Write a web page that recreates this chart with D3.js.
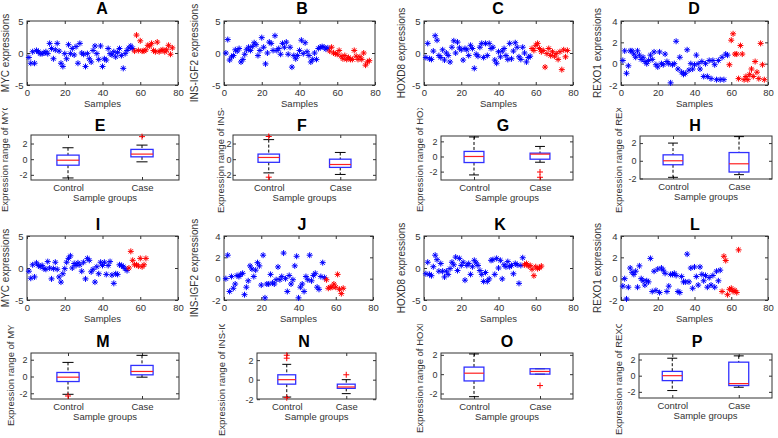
<!DOCTYPE html>
<html><head><meta charset="utf-8">
<script src="https://cdn.jsdelivr.net/npm/d3@7"></script>
<style>
body{margin:0;background:#fff}
svg{display:block}
text{font-family:"Liberation Sans",Arial,sans-serif;fill:#333}
</style>
</head><body>
<svg id="c" width="778" height="438"></svg>
<script>
// ---------------- DATA ----------------
const sampleTicks = [0, 20, 40, 60, 80];
const groups = ["Control", "Case"];
const genes = ["MYC", "INS-IGF2", "HOXD8", "REXO1"];

// scatter series (values in sample order; control = blue, case = red)
const A_control = [-0.7,-1.6,0.2,-1.6,0.4,0.2,-0.1,-0.1,0,0.2,-0.1,1.5,0.7,-0.9,0.5,1.5,0.3,-1.6,-2.1,-0.1,-0.9,1.3,-0.1,0.7,-0.3,1.0,-1.6,1.5,0,-0.2,-2.1,-0.1,-0.9,-1.4,0.4,1.1,-0.1,-1.0,1.1,-2.1,-0.9,-1.1,0.7,-0.1,-0.3,0.2,-0.6,0.1,0.7,-0.4,-2.4,-0.1,0.4,0.8,1.1,0.7];
const A_case = [0.3,2.8,0.4,1.9,0.3,0.3,0.5,1.2,1.1,1.5,0.4,0.2,1.7,0.2,0.4,0.5,0.2,0.5,1.2,-0.2,0.8];
const B_control = [0,2.1,-1.1,-0.6,-0.4,0.5,0.3,0.7,-1.4,-1.0,-0.2,0.5,0.9,0.4,1.0,1.6,1.3,-0.4,0.4,2.4,0.9,-1.7,0,1.7,1.5,0.4,2.7,0.4,0.7,-0.2,1.5,0.9,1.7,-0.2,0.9,-2.2,-0.4,-0.9,-0.4,0.4,2.0,-0.1,1.6,0.2,-0.4,-1.4,-1.0,0,-1.0,0.7,0.9,1.0,0.9,0.6,0.8];
const B_case = [0.3,0.9,0,-0.1,-0.2,0.4,-0.5,-0.9,-0.4,-1.0,-0.7,-1.0,-1.0,0.4,-0.5,-1.0,-0.6,-1.0,0,-1.9,-1.4,-1.2];
const C_control = [-0.7,1.5,-0.9,-1.0,0.3,2.7,2.0,-0.4,-0.7,0.5,-1.1,0,-0.4,-1.4,0.9,1.9,0,1.7,0.8,0.5,-1.1,0.7,0.5,-0.4,1.2,0.7,-2.4,-0.2,-0.5,0.9,1.5,-0.7,1.5,-0.4,1.5,0.7,0.9,-1.1,-1.6,0.2,-0.6,0.3,0.7,-0.4,-1.0,1.5,-0.9,0.3,1.6,0.9,-0.6,-1.0,0.9,0,-1.4,-0.7,-0.5];
const C_case = [0.7,0.4,1.2,1.5,0.7,0.2,0.4,-2.2,-0.1,0.7,-0.4,0.2,-0.5,-0.1,-1.0,0.2,-2.6,0.5,-0.6,0.4];
const D_control = [0.3,1.2,-0.9,-0.2,1.2,1.2,0.9,0.6,1.2,0.8,0.4,0.6,0.2,0,0.3,0.8,0.4,1.1,-0.1,-0.3,1.1,0,-0.1,0.9,0.2,0,-1.8,-0.1,0,2.1,-0.5,0.6,-0.8,-1.0,-0.9,1.3,-0.6,0,-0.5,-0.1,0.8,0,-0.5,0.2,-1.2,0,-1.2,0.3,-1.4,0.3,-0.1,-1.5,0.3,-1.5,0.6,-1.5,0.9,0.8];
const D_case = [-0.1,2.2,2.8,0.9,0.9,-1.4,1.7,0.9,-1.5,-1.2,-1.5,-1.0,-0.5,-1.2,0.2,-0.8,-1.4,1.9,-0.1,-1.5];
const I_control = [-0.5,-1.6,0.5,-1.4,0.8,0.4,0.2,0.4,-0.1,-0.2,1.0,0,-1.7,-0.1,0.9,-0.2,-1.4,-2.2,-0.9,-0.1,0.9,1.5,1.9,0,0.7,0.4,0.8,0.5,-0.5,0.9,-1.7,1.5,1.2,-0.6,-0.2,-2.2,0.2,-0.9,0.9,0.4,0.9,-1.0,0.4,1.0,-1.1,-2.4,-0.9,-1.0,0.5,0.4,0.2,-0.1,-0.4];
const I_case = [0,2.6,1.2,0.5,0.5,0.3,1.5,0.2,0.5,1.5];
const J_control = [0,2.2,-1.2,0.2,-0.9,-0.5,0.3,0.2,0.4,0.5,-1.5,-0.8,-0.2,1.2,0.9,0.2,0.8,1.5,1.2,-0.6,2.2,-1.8,-0.5,-0.5,0.4,-0.4,-0.5,-0.1,1.1,-0.1,0.2,2.4,0,-1.2,0.3,-0.5,-0.1,1.2,2.1,-1.8,-0.8,-0.5,-1.2,0.2,-0.1,2.2,-0.2,0.3,0.5,-0.8,-1.0,0.2,1.5,0.1];
const J_case = [-0.1,-0.9,-0.8,-0.8,-0.5,-0.8,0.4,-1.0,-1.4,-0.9];
const K_control = [-0.9,0.9,-1.0,-1.2,0.2,2.0,1.3,-0.5,0.7,-0.5,-1.4,-0.5,-1.0,-0.1,0.9,0.5,1.7,-0.4,1.5,0.4,0.9,-1.9,0.4,0.7,-1.0,0.2,1.2,0.8,0.4,-0.4,-1.0,-2.1,-0.7,-2.1,-1.7,1.2,1.3,-1.0,1.5,0,1.2,-1.7,0.5,0.2,1.0,0.2,0.4,-0.9,0.7,0.5,-2.4,0.4,1.6];
const K_case = [0.5,0.7,0.3,0.4,-0.2,-1.2,0.2,-0.1,0,0.3];
const L_control = [-0.7,0,-1.9,-0.8,1.0,0.6,0.4,0.7,-0.8,1.2,0,-0.2,-0.6,-0.2,-0.3,1.9,-1.2,0.7,-1.1,0.9,-1.3,1.0,0.8,0.5,-1.2,-0.7,0.4,0.4,0.5,0.3,-1.2,-1.3,0.2,-0.3,-0.3,2.3,-0.3,1.0,-0.9,1.1,0.2,-0.6,1.1,0.4,-0.2,0.3,-0.8,0.1,-0.6,0.3,-0.8,0.7,-0.2,0.8];
const L_case = [-1.2,2.1,1.7,-1.5,-1.0,-0.9,-1.2,-1.1,-1.3,2.7];

// box statistics per group: [lower whisker, Q1, median, Q3, upper whisker]
const E_box = [[-2.4,-0.77,-0.13,0.52,1.46],[-0.34,0.3,0.65,1.25,1.8]];
const E_out = [[],[2.88]];
const F_box = [[-1.75,-0.4,0.22,0.65,2.5],[-1.95,-1.05,-0.68,0,0.86]];
const F_out = [[2.9,-2.3],[]];
const G_box = [[-2.44,-0.8,0,0.67,2.58],[-0.76,-0.36,0.31,0.44,1.33]];
const G_out = [[],[-2.05,-2.75]];
const H_box = [[-1.87,-0.45,0,0.67,2.0],[-1.57,-1.27,-0.34,0.93,2.73]];
const H_out = [[],[]];
const M_box = [[-2.12,-0.6,-0.08,0.48,1.68],[-0.08,0.2,0.6,1.32,2.52]];
const M_out = [[-2.32],[]];
const N_box = [[-1.78,-0.46,0,0.5,1.57],[-1.43,-0.89,-0.75,-0.46,0]];
const N_out = [[2.5,2.2,-1.85],[0.5]];
const O_box = [[-2.33,-0.7,0.1,0.73,2.09],[0,0,0.28,0.56,0.56]];
const O_out = [[],[-1.18]];
const P_box = [[-1.84,-0.61,0,0.53,2.16],[-1.43,-1.22,-0.98,1.67,2.45]];
const P_out = [[],[]];

// ---------------- LAYOUT ----------------
const svg = d3.select("#c");
const defs = svg.append("defs");
defs.append("clipPath").attr("id", "clipRow2").attr("clipPathUnits", "userSpaceOnUse")
  .append("rect").attr("x", 0).attr("y", 108).attr("width", 778).attr("height", 330);
defs.append("clipPath").attr("id", "clipRow4").attr("clipPathUnits", "userSpaceOnUse")
  .append("rect").attr("x", 0).attr("y", 324).attr("width", 778).attr("height", 114);

const FRAME = "#333";
const ast = "M-3,0H3M0,-3V3M-2.1,-2.1L2.1,2.1M-2.1,2.1L2.1,-2.1";
const plus = "M-3,0H3M0,-3V3";

function styleAxis(sel, fs) {
  sel.select(".domain").remove();
  sel.selectAll(".tick line").attr("stroke", FRAME);
  sel.selectAll(".tick text").attr("fill", "#333").style("font-size", fs + "px")
     .style("font-family", '"Liberation Sans",Arial,sans-serif');
}

function framedAxes(g, x, y, p, xTicks, xFmt, yTicks, fx, fy) {
  g.append("rect").attr("x", p.x0).attr("y", p.y0)
    .attr("width", p.x1 - p.x0).attr("height", p.y1 - p.y0)
    .attr("fill", "none").attr("stroke", FRAME).attr("stroke-width", 1);
  g.append("g").attr("transform", `translate(0,${p.y1})`)
    .call(d3.axisBottom(x).tickValues(xTicks).tickFormat(xFmt).tickSizeInner(-3).tickSizeOuter(0).tickPadding(4))
    .call(s => styleAxis(s, fx));
  g.append("g").attr("transform", `translate(0,${p.y0})`)
    .call(d3.axisTop(x).tickValues(xTicks).tickFormat("").tickSizeInner(-3).tickSizeOuter(0))
    .call(s => styleAxis(s, fx));
  g.append("g").attr("transform", `translate(${p.x0},0)`)
    .call(d3.axisLeft(y).tickValues(yTicks).tickFormat(d3.format("d")).tickSizeInner(-3).tickSizeOuter(0).tickPadding(p.yPad || 3.5))
    .call(s => styleAxis(s, fy));
  g.append("g").attr("transform", `translate(${p.x1},0)`)
    .call(d3.axisRight(y).tickValues(yTicks).tickFormat("").tickSizeInner(-3).tickSizeOuter(0))
    .call(s => styleAxis(s, fy));
  g.selectAll(".tick text").text(function(){ return this.textContent.replace("\u2212","-"); });
}

function title(g, p) {
  g.append("text").attr("x", p.tx).attr("y", p.ty).attr("text-anchor", "middle")
    .style("font-size", "16px").style("font-weight", "bold").style("fill", "#000").text(p.title);
}

function scatter(p, control, cases) {
  const g = svg.append("g");
  const x = d3.scaleLinear().domain([0, 80]).range([p.x0, p.x1]);
  const y = d3.scaleLinear().domain(p.dom).range([p.y1, p.y0]);
  framedAxes(g, x, y, p, sampleTicks, d3.format("d"), p.yTicks, 9.5, 9.5);
  const pts = control.map((v, i) => ({s: i + 1, v, c: "#0000ff"}))
    .concat(cases.map((v, i) => ({s: control.length + i + 1, v, c: "#ff0000"})));
  g.append("g").selectAll("path").data(pts).join("path")
    .attr("d", ast).attr("transform", d => `translate(${x(d.s)},${y(d.v)})`)
    .attr("stroke", d => d.c).attr("stroke-width", 1).attr("fill", "none");
  g.append("text").attr("x", (p.x0 + p.x1) / 2).attr("y", p.y1 + 22)
    .attr("text-anchor", "middle").style("font-size", "9.5px").text("Samples");
  g.append("text").attr("transform", `translate(${p.ylx},${(p.y0 + p.y1) / 2}) rotate(-90)`)
    .attr("text-anchor", "middle").style("font-size", "10px").text(p.ylab);
  title(g, p);
}

function boxplot(p, stats, outs) {
  const g = svg.append("g");
  const x = d3.scaleLinear().domain([0.5, 2.5]).range([p.x0, p.x1]);
  const y = d3.scaleLinear().domain(p.dom).range([p.y1, p.y0]);
  framedAxes(g, x, y, p, [1, 2], d => groups[d - 1], [-2, 0, 2], 9.5, 9);
  const hw = x(1.15) - x(1), cw = hw / 2;
  stats.forEach((s, i) => {
    const c = x(i + 1);
    const [lo, q1, md, q3, hi] = s;
    g.append("line").attr("x1", c).attr("x2", c).attr("y1", y(hi)).attr("y2", y(q3))
      .attr("stroke", "#000").attr("stroke-dasharray", "3,2");
    g.append("line").attr("x1", c).attr("x2", c).attr("y1", y(q1)).attr("y2", y(lo))
      .attr("stroke", "#000").attr("stroke-dasharray", "3,2");
    [lo, hi].forEach(v => g.append("line").attr("x1", c - cw).attr("x2", c + cw)
      .attr("y1", y(v)).attr("y2", y(v)).attr("stroke", "#000"));
    g.append("rect").attr("x", c - hw).attr("width", 2 * hw)
      .attr("y", y(q3)).attr("height", Math.max(0.5, y(q1) - y(q3)))
      .attr("fill", "none").attr("stroke", "#3030ff").attr("stroke-width", 1.3);
    g.append("line").attr("x1", c - hw).attr("x2", c + hw).attr("y1", y(md)).attr("y2", y(md))
      .attr("stroke", "#ff2020").attr("stroke-width", 1.2);
    g.selectAll(null).data(outs[i]).join("path").attr("d", plus)
      .attr("transform", v => `translate(${c},${y(v)})`)
      .attr("stroke", "#ff0000").attr("fill", "none");
  });
  g.append("text").attr("x", (p.x0 + p.x1) / 2).attr("y", p.y1 + 21)
    .attr("text-anchor", "middle").style("font-size", "9.5px").text("Sample groups");
  g.append("g").attr("clip-path", `url(#${p.clip})`)
    .append("text")
    .attr("transform", `translate(${p.ylx},${p.yly}) rotate(-90)`)
    .attr("text-anchor", "start").style("font-size", "9.5px").text(p.ylab);
  title(g, p);
}

const sc = [
  {x0:27,x1:178,y0:21,y1:85,dom:[-5,5],yTicks:[-5,0,5],ylab:"MYC expressions",ylx:9,title:"A",tx:102,ty:14, c:A_control, k:A_case},
  {x0:224,x1:375,y0:21,y1:85,dom:[-5,5],yTicks:[-5,0,5],ylab:"INS-IGF2 expressions",ylx:198,title:"B",tx:302,ty:14, c:B_control, k:B_case},
  {x0:424,x1:573,y0:21,y1:85,dom:[-5,5],yTicks:[-5,0,5],ylab:"HOXD8 expressions",ylx:405,title:"C",tx:498,ty:14, c:C_control, k:C_case},
  {x0:621,x1:768,y0:21,y1:85,dom:[-2,4],yTicks:[-2,0,2,4],ylab:"REXO1 expressions",ylx:601,title:"D",tx:694,ty:14, c:D_control, k:D_case},
  {x0:27,x1:178,y0:236,y1:300,dom:[-5,5],yTicks:[-5,0,5],ylab:"MYC expressions",ylx:9,title:"I",tx:98,ty:230, c:I_control, k:I_case},
  {x0:224,x1:373,y0:236,y1:300,dom:[-2,4],yTicks:[-2,0,2,4],ylab:"INS-IGF2 expressions",ylx:198,title:"J",tx:302,ty:230, c:J_control, k:J_case},
  {x0:424,x1:573,y0:236,y1:300,dom:[-5,5],yTicks:[-5,0,5],ylab:"HOXD8 expressions",ylx:405,title:"K",tx:500,ty:230, c:K_control, k:K_case},
  {x0:621,x1:768,y0:236,y1:300,dom:[-2,4],yTicks:[-2,0,2,4],ylab:"REXO1 expressions",ylx:601,title:"L",tx:695,ty:230, c:L_control, k:L_case}
];
sc.forEach(p => scatter(p, p.c, p.k));

const bx = [
  {x0:31,x1:179,y0:135,y1:180,dom:[-2.66,3.09],ylab:"Expression range of "+genes[0],ylx:8,yly:212,clip:"clipRow2",title:"E",tx:100,ty:131,s:E_box,o:E_out},
  {x0:233,x1:376,y0:135,y1:180,dom:[-2.66,3.09],ylab:"Expression range of "+genes[1],ylx:224,yly:213,clip:"clipRow2",title:"F",tx:302,ty:131,yPad:1.5,s:F_box,o:F_out},
  {x0:441,x1:573,y0:136,y1:180,dom:[-3.11,2.71],ylab:"Expression range of "+genes[2],ylx:423,yly:212,clip:"clipRow2",title:"G",tx:503,ty:131,s:G_box,o:G_out},
  {x0:640,x1:772,y0:136,y1:179,dom:[-2.06,2.8],ylab:"Expression range of "+genes[3],ylx:622,yly:213,clip:"clipRow2",title:"H",tx:695,ty:131,s:H_box,o:H_out},
  {x0:31,x1:179,y0:353,y1:399,dom:[-2.68,2.8],ylab:"Expression range of "+genes[0],ylx:14,yly:426,clip:"clipRow4",title:"M",tx:103,ty:347,s:M_box,o:M_out},
  {x0:257,x1:376,y0:353,y1:399,dom:[-1.98,2.73],ylab:"Expression range of "+genes[1],ylx:225,yly:436,clip:"clipRow4",title:"N",tx:304,ty:347,s:N_box,o:N_out},
  {x0:441,x1:573,y0:353,y1:399,dom:[-2.57,2.19],ylab:"Expression range of "+genes[2],ylx:423,yly:433,clip:"clipRow4",title:"O",tx:507,ty:347,s:O_box,o:O_out},
  {x0:639,x1:772,y0:354,y1:398,dom:[-2.76,2.68],ylab:"Expression range of "+genes[3],ylx:622,yly:435,clip:"clipRow4",title:"P",tx:697,ty:347,s:P_box,o:P_out}
];
bx.forEach(p => boxplot(p, p.s, p.o));
</script>
</body></html>
